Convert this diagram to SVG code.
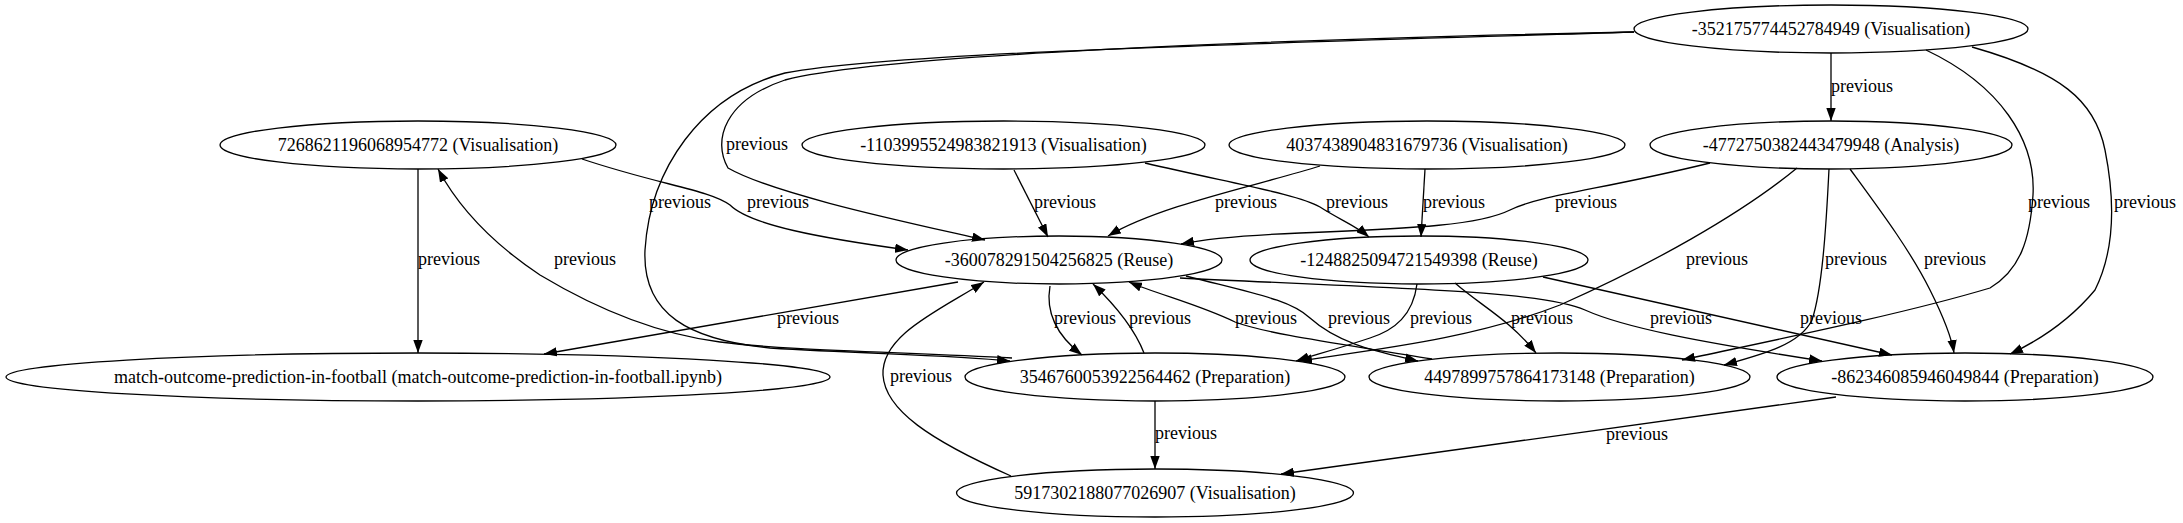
<svg xmlns="http://www.w3.org/2000/svg" width="2183" height="523" viewBox="0 0 2183 523">
<style>
.n ellipse{fill:none;stroke:#000;stroke-width:1.3}
.n text{font-family:"Liberation Serif","Times New Roman",serif;font-size:18px;text-anchor:middle;fill:#000}
.e path{fill:none;stroke:#000;stroke-width:1.3;marker-end:url(#ah)}
.e text{font-family:"Liberation Serif","Times New Roman",serif;font-size:18px;text-anchor:middle;fill:#000}
</style>
<defs>
<marker id="ah" viewBox="0 0 13 9.4" refX="13" refY="4.7" markerWidth="13" markerHeight="9.4" markerUnits="userSpaceOnUse" orient="auto">
<path d="M0,0 L13,4.7 L0,9.4 z" fill="#000"/>
</marker>
</defs>
<rect width="2183" height="523" fill="#fff"/>
<g id="connectors" class="e">
<path d="M1831,53 L1831,121"/><text x="1862" y="92">previous</text>
<path d="M1634,32 C1250,40 880,55 785,80 C725,100 712,140 728,168 C775,195 920,225 985,240"/><text x="757" y="150">previous</text>
<path d="M1634,32 C1250,44 900,52 785,73 C700,95 650,170 645,250 C642,315 690,340 770,348 C870,354 950,355 1010,361"/><text x="680" y="208">previous</text>
<path d="M1926,50 C2000,85 2036,140 2033,195 C2030,240 2020,270 1990,288 C1900,315 1760,343 1682,360"/><text x="2059" y="208">previous</text>
<path d="M1972,47 C2060,72 2095,100 2105,150 C2115,200 2115,250 2095,290 C2070,320 2040,340 2010,354"/><text x="2145" y="208">previous</text>
<path d="M418,169 L418,353"/><text x="449" y="265">previous</text>
<path d="M1012,358 C900,352 780,350 720,342 C650,333 590,305 540,275 C495,245 460,210 438,169"/><text x="585" y="265">previous</text>
<path d="M582,159 C660,185 710,190 730,205 C750,225 820,238 908,250"/><text x="778" y="208">previous</text>
<path d="M1014,170 L1048,237"/><text x="1065" y="208">previous</text>
<path d="M1145,163 C1240,185 1300,195 1320,207 C1340,220 1355,225 1369,237"/><text x="1357" y="208">previous</text>
<path d="M1320,166 C1260,185 1160,205 1108,236"/><text x="1246" y="208">previous</text>
<path d="M1425,169 L1421,237"/><text x="1454" y="208">previous</text>
<path d="M1710,163 C1600,190 1540,195 1510,210 C1480,225 1420,228 1300,233 C1250,235 1210,238 1181,244"/><text x="1586" y="208">previous</text>
<path d="M1797,168 C1740,215 1650,265 1560,305 C1470,340 1370,350 1299,361"/><text x="1717" y="265">previous</text>
<path d="M1829,169 C1826,230 1822,290 1812,320 C1800,345 1760,355 1724,365"/><text x="1856" y="265">previous</text>
<path d="M1850,169 C1880,210 1910,250 1930,290 C1945,320 1952,340 1954,353"/><text x="1955" y="265">previous</text>
<path d="M958,282 L544,354"/><text x="808" y="324">previous</text>
<path d="M1050,286 C1045,315 1060,338 1082,355"/><text x="1085" y="324">previous</text>
<path d="M1144,353 C1135,330 1115,305 1093,284"/><text x="1160" y="324">previous</text>
<path d="M1432,359 C1350,345 1270,335 1235,322 C1200,305 1160,295 1129,282"/><text x="1266" y="324">previous</text>
<path d="M1186,276 C1260,295 1290,300 1310,318 C1340,345 1380,352 1418,361"/><text x="1359" y="324">previous</text>
<path d="M1180,278 C1380,288 1540,290 1585,310 C1625,328 1700,342 1822,361"/><text x="1681" y="324">previous</text>
<path d="M1417,284 C1413,315 1395,330 1370,338 C1340,348 1315,355 1296,361"/><text x="1441" y="324">previous</text>
<path d="M1455,283 C1480,305 1510,320 1536,353"/><text x="1542" y="324">previous</text>
<path d="M1543,277 L1892,355"/><text x="1831" y="324">previous</text>
<path d="M1011,476 C930,440 885,410 883,375 C881,335 940,310 984,282"/><text x="921" y="382">previous</text>
<path d="M1155,401 L1155,469"/><text x="1186" y="439">previous</text>
<path d="M1836,397 L1281,474"/><text x="1637" y="440">previous</text>
</g>
<g id="n-352175774452784949" class="n"><ellipse cx="1831" cy="29" rx="197" ry="24"/><text x="1831" y="35">-352175774452784949 (Visualisation)</text></g>
<g id="n7268621196068954772" class="n"><ellipse cx="418" cy="145" rx="198" ry="24"/><text x="418" y="151">7268621196068954772 (Visualisation)</text></g>
<g id="n-1103995524983821913" class="n"><ellipse cx="1003.5" cy="145" rx="201.5" ry="24"/><text x="1003.5" y="151">-1103995524983821913 (Visualisation)</text></g>
<g id="n4037438904831679736" class="n"><ellipse cx="1427" cy="145" rx="198" ry="24"/><text x="1427" y="151">4037438904831679736 (Visualisation)</text></g>
<g id="n-4772750382443479948" class="n"><ellipse cx="1831" cy="145" rx="181" ry="24"/><text x="1831" y="151">-4772750382443479948 (Analysis)</text></g>
<g id="n-360078291504256825" class="n"><ellipse cx="1059" cy="260" rx="163" ry="24"/><text x="1059" y="266">-360078291504256825 (Reuse)</text></g>
<g id="n-1248825094721549398" class="n"><ellipse cx="1419" cy="260" rx="169" ry="24"/><text x="1419" y="266">-1248825094721549398 (Reuse)</text></g>
<g id="n3546760053922564462" class="n"><ellipse cx="1155" cy="377" rx="190" ry="24"/><text x="1155" y="383">3546760053922564462 (Preparation)</text></g>
<g id="n4497899757864173148" class="n"><ellipse cx="1559.5" cy="377" rx="190.5" ry="24"/><text x="1559.5" y="383">4497899757864173148 (Preparation)</text></g>
<g id="n-862346085946049844" class="n"><ellipse cx="1965" cy="377" rx="188" ry="24"/><text x="1965" y="383">-862346085946049844 (Preparation)</text></g>
<g id="n5917302188077026907" class="n"><ellipse cx="1155" cy="493" rx="198.5" ry="24"/><text x="1155" y="499">5917302188077026907 (Visualisation)</text></g>
<g id="n-match" class="n"><ellipse cx="418" cy="377" rx="412" ry="24"/><text x="418" y="383">match-outcome-prediction-in-football (match-outcome-prediction-in-football.ipynb)</text></g>
</svg>
